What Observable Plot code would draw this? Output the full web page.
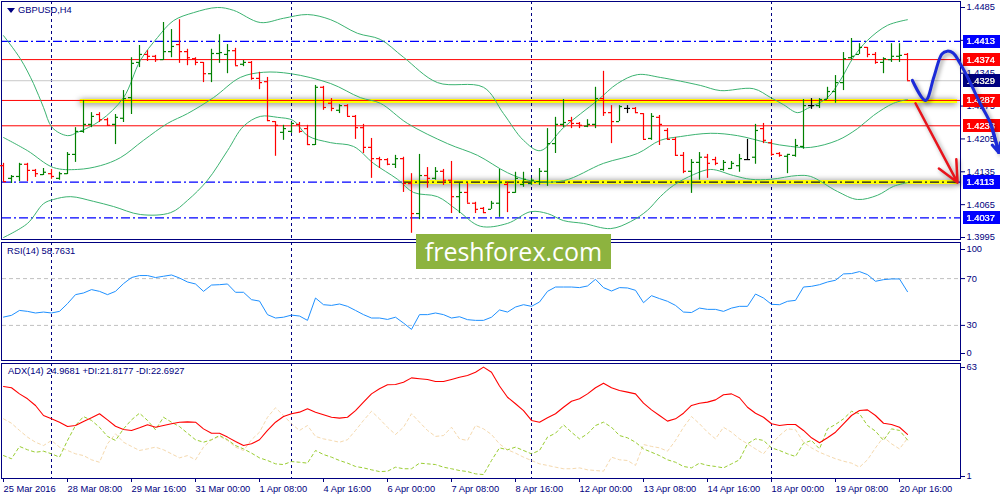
<!DOCTYPE html>
<html>
<head>
<meta charset="utf-8">
<script src="https://cdn.jsdelivr.net/npm/d3@7"></script>
<script src="https://cdn.jsdelivr.net/npm/@observablehq/plot@0.6"></script>
<style>
  body { margin: 0; background: #fff; font-family: "Liberation Sans", Arial, sans-serif; }
  #wrap { position: relative; width: 1000px; height: 500px; overflow: hidden; }
  #wrap > svg { position: absolute; left: 0; }
  .panel { position: absolute; box-sizing: border-box; border: 1px solid #000080; }
  .lbl { position: absolute; font-size: 9.3px; color: #000080; white-space: nowrap; line-height: 12px; }
  .tri { position: absolute; left: 7px; top: 8px; width: 0; height: 0;
         border-left: 4px solid transparent; border-right: 4px solid transparent; border-top: 5px solid #000080; }
  #wm { position: absolute; left: 416px; top: 234px; width: 195px; height: 35px; background: #8db33f;
        color: #fff; font-family: "Open Sans", sans-serif; font-size: 25px; line-height: 35px; text-align: center; }
  .glow { filter: drop-shadow(0 1px 3px rgba(0,0,0,.6)); }
  .shadow { filter: drop-shadow(2px 2px 2px rgba(0,0,0,.4)); }
  .tag-red text { filter: url(#tagRed); }
  .tag-blue text { filter: url(#tagBlue); }
  .tag-navy text { filter: url(#tagNavy); }
</style>
</head>
<body>
<svg width="0" height="0" style="position:absolute">
  <filter id="tagRed" x="-0.1" y="-0.12" width="1.6" height="1.24"><feFlood flood-color="#ff0000"/><feComposite in="SourceGraphic"/></filter>
  <filter id="tagBlue" x="-0.1" y="-0.12" width="1.6" height="1.24"><feFlood flood-color="#0000ff"/><feComposite in="SourceGraphic"/></filter>
  <filter id="tagNavy" x="-0.1" y="-0.12" width="1.6" height="1.24"><feFlood flood-color="#000080"/><feComposite in="SourceGraphic"/></filter>
</svg>
<div id="wrap">
  <div class="panel" style="left:1px;top:1px;width:960px;height:239px"></div>
  <div class="panel" style="left:1px;top:242px;width:960px;height:119px"></div>
  <div class="panel" style="left:1px;top:363px;width:960px;height:116px"></div>
</div>
<script>
const NAVY = "#000080";
const UP = "#008000";
const DOWN = "#ff0000";
const BB = "#3cb371";
const FONT = '"Liberation Sans", Arial, sans-serif';
const X_DOMAIN = [-0.125, 119.625];

// GBPUSD H4 bars, 25 Mar 2016 00:00 .. 20 Apr 2016 20:00
const open = [1.4148,1.4121,1.4125,1.4151,1.4138,1.4129,1.4131,1.4121,1.4131,1.4172,1.4221,1.4236,1.4257,1.4246,1.4236,1.4249,1.4293,1.4368,1.4385,1.4381,
  1.4374,1.4391,1.4406,1.4391,1.4376,1.4368,1.4344,1.4387,1.4385,1.4393,1.4364,1.4368,1.4334,1.4327,1.4242,1.4219,1.4221,1.4236,1.4227,1.4193,
  1.4315,1.4281,1.4266,1.4276,1.4253,1.4229,1.4187,1.4163,1.4161,1.4151,1.4163,1.4110,1.4046,1.4127,1.4121,1.4136,1.4117,1.4082,1.4091,1.4068,
  1.4057,1.4055,1.4068,1.4108,1.4091,1.4108,1.4110,1.4114,1.4136,1.4195,1.4236,1.4244,1.4238,1.4232,1.4236,1.4291,1.4261,1.4242,1.4270,1.4270,
  1.4259,1.4206,1.4251,1.4223,1.4204,1.4170,1.4136,1.4155,1.4166,1.4161,1.4140,1.4142,1.4148,1.4161,1.4166,1.4227,1.4197,1.4174,1.4168,1.4170,
  1.4189,1.4276,1.4276,1.4289,1.4306,1.4325,1.4378,1.4385,1.4400,1.4385,1.4368,1.4374,1.4381,1.4385];
const high = [1.4153,1.4127,1.4153,1.4153,1.4140,1.4142,1.4140,1.4134,1.4176,1.4229,1.4287,1.4261,1.4261,1.4249,1.4257,1.4308,1.4378,1.4404,1.4393,1.4383,
  1.4453,1.4438,1.4459,1.4396,1.4378,1.4368,1.4396,1.4427,1.4406,1.4398,1.4372,1.4370,1.4347,1.4336,1.4242,1.4234,1.4240,1.4240,1.4234,1.4319,
  1.4317,1.4291,1.4278,1.4278,1.4255,1.4236,1.4206,1.4166,1.4163,1.4170,1.4166,1.4131,1.4172,1.4144,1.4144,1.4140,1.4157,1.4110,1.4110,1.4070,
  1.4059,1.4072,1.4140,1.4112,1.4134,1.4134,1.4121,1.4142,1.4227,1.4251,1.4289,1.4251,1.4240,1.4246,1.4315,1.4349,1.4276,1.4276,1.4276,1.4272,
  1.4259,1.4259,1.4255,1.4227,1.4208,1.4176,1.4161,1.4176,1.4172,1.4166,1.4159,1.4157,1.4172,1.4204,1.4236,1.4238,1.4202,1.4176,1.4172,1.4204,
  1.4289,1.4291,1.4291,1.4315,1.4340,1.4389,1.4419,1.4408,1.4400,1.4389,1.4378,1.4408,1.4408,1.4387];
const low = [1.4112,1.4110,1.4114,1.4114,1.4123,1.4127,1.4119,1.4117,1.4129,1.4155,1.4217,1.4229,1.4240,1.4232,1.4193,1.4240,1.4257,1.4357,1.4370,1.4368,
  1.4372,1.4378,1.4366,1.4361,1.4361,1.4325,1.4325,1.4366,1.4344,1.4361,1.4359,1.4330,1.4310,1.4242,1.4168,1.4202,1.4217,1.4217,1.4191,1.4191,
  1.4266,1.4263,1.4259,1.4253,1.4204,1.4174,1.4121,1.4142,1.4148,1.4142,1.4091,1.4004,1.4033,1.4100,1.4117,1.4106,1.4046,1.4046,1.4068,1.4046,
  1.4046,1.4055,1.4038,1.4048,1.4089,1.4102,1.4106,1.4106,1.4104,1.4174,1.4229,1.4227,1.4227,1.4229,1.4227,1.4253,1.4195,1.4242,1.4259,1.4259,
  1.4204,1.4202,1.4191,1.4202,1.4168,1.4131,1.4089,1.4117,1.4121,1.4148,1.4136,1.4140,1.4134,1.4161,1.4151,1.4195,1.4168,1.4166,1.4131,1.4166,
  1.4183,1.4268,1.4270,1.4289,1.4281,1.4308,1.4374,1.4385,1.4378,1.4364,1.4344,1.4368,1.4368,1.4329];
const close = [1.4114,1.4125,1.4151,1.4138,1.4131,1.4134,1.4125,1.4131,1.4172,1.4221,1.4236,1.4253,1.4246,1.4234,1.4251,1.4291,1.4366,1.4385,1.4381,1.4374,
  1.4391,1.4402,1.4391,1.4378,1.4368,1.4344,1.4387,1.4389,1.4393,1.4361,1.4368,1.4334,1.4325,1.4244,1.4234,1.4227,1.4238,1.4221,1.4193,1.4315,
  1.4272,1.4270,1.4276,1.4253,1.4229,1.4187,1.4163,1.4161,1.4151,1.4163,1.4110,1.4046,1.4127,1.4121,1.4136,1.4117,1.4082,1.4091,1.4068,1.4055,
  1.4048,1.4068,1.4112,1.4091,1.4121,1.4119,1.4117,1.4136,1.4195,1.4236,1.4240,1.4238,1.4234,1.4236,1.4291,1.4261,1.4242,1.4274,1.4270,1.4261,
  1.4204,1.4253,1.4236,1.4204,1.4170,1.4136,1.4155,1.4166,1.4153,1.4153,1.4155,1.4153,1.4163,1.4161,1.4223,1.4202,1.4172,1.4170,1.4172,1.4191,
  1.4276,1.4276,1.4289,1.4306,1.4325,1.4376,1.4381,1.4400,1.4385,1.4368,1.4376,1.4381,1.4383,1.4329];

// Bollinger bands, read at [bar, price]
const bbUpper = [[0,1.4425],[2.1,1.4376],[3.75,1.4323],[5,1.4272],[6.1,1.4229],[8,1.4212],[9.25,1.4219],[12.1,1.4244],[15,1.4293],[17.1,1.4372],
  [19.25,1.4421],[21.25,1.4457],[23.75,1.4474],[26.75,1.4485],[28.75,1.4479],[32.1,1.4453],[35,1.4462],[38,1.4470],[40.9,1.4459],[44.25,1.4430],
  [47.1,1.4417],[50,1.4379],[54.25,1.4325],[60,1.4315],[62.5,1.4259],[65,1.4202],[67.1,1.4180],[70,1.4229],[74.25,1.4287],[76.75,1.4323],
  [79.25,1.4342],[82.1,1.4336],[87.1,1.4319],[89.6,1.4308],[93.75,1.4312],[95.9,1.4293],[97.5,1.4278],[99.25,1.4261],[100.5,1.4270],[103,1.4293],
  [104.6,1.4330],[106.25,1.4379],[108,1.4415],[110.5,1.4447],[113,1.4459]];
const bbMiddle = [[0,1.4208],[3,1.4180],[6.25,1.4144],[9.25,1.4140],[12.1,1.4148],[14.6,1.4165],[17.5,1.4202],[20.5,1.4238],[23,1.4259],[26.25,1.4293],
  [29.6,1.4336],[32.5,1.4347],[35.9,1.4344],[40.9,1.4323],[44.6,1.4293],[47.1,1.4281],[50.5,1.4238],[55.5,1.4195],[59.25,1.4170],[63,1.4133],
  [65.9,1.4116],[70,1.4116],[75,1.4153],[79.25,1.4174],[82.1,1.4202],[84.6,1.4210],[88.4,1.4217],[91.75,1.4212],[95.5,1.4197],[98.4,1.4189],
  [100.9,1.4187],[104.25,1.4202],[106.75,1.4227],[108.75,1.4255],[111.25,1.4281],[113,1.4289]];
const bbLower = [[0,1.3995],[3,1.4025],[5,1.4067],[6.25,1.4076],[8.4,1.4082],[11.25,1.4072],[13.75,1.4061],[17.1,1.4044],[20.9,1.4048],[23,1.4074],
  [25.5,1.4117],[28,1.4180],[30,1.4232],[32.1,1.4253],[34.25,1.4251],[36.25,1.4244],[38,1.4212],[40.9,1.4197],[43.75,1.4189],[46.25,1.4153],
  [49.25,1.4119],[51.25,1.4091],[54.25,1.4082],[56.75,1.4053],[59.6,1.4019],[63,1.4025],[65.9,1.4050],[68,1.4046],[70,1.4031],[72.5,1.4025],
  [75.9,1.4014],[78.4,1.4029],[80.5,1.4053],[82.1,1.4082],[83.75,1.4106],[86.25,1.4129],[88.4,1.4140],[91.25,1.4127],[93.4,1.4119],[95.9,1.4119],
  [99.25,1.4127],[100.9,1.4125],[104.25,1.4093],[106.75,1.4076],[109.25,1.4085],[111.25,1.4104],[113,1.4112]];

const rsi = [37.1,38.6,42.8,42.0,40.6,41.4,40.6,42.0,48.6,56.3,57.7,60.6,59.1,56.3,59.1,65.7,70.9,72.6,72.6,70.9,
  72.0,73.1,70.5,67.1,65.4,59.1,64.5,64.8,65.4,58.3,58.3,52.0,50.8,39.2,36.3,37.0,38.8,38.0,34.3,53.4,
  47.7,47.1,48.3,46.3,42.8,39.2,36.3,36.3,35.1,37.0,32.0,26.6,39.2,39.2,40.6,39.2,36.3,37.4,34.9,34.3,
  34.3,37.0,43.2,41.4,45.7,47.7,46.3,50.0,59.1,62.8,62.8,62.8,62.3,63.7,69.4,62.3,59.4,62.3,62.0,60.0,
  49.4,55.4,52.9,50.6,47.1,41.4,41.0,44.8,43.7,43.7,42.0,44.8,46.3,46.3,56.8,53.4,48.0,47.7,50.6,51.4,
  62.8,63.4,64.8,67.1,68.6,74.0,74.3,76.0,73.4,67.7,69.1,69.7,69.7,58.8];
const adx = [52.2,51.5,48.0,45.2,41.4,35.7,33.8,31.9,29.4,30.0,32.3,34.4,36.7,33.2,29.6,27.7,27.2,28.7,30.4,29.0,
  30.0,31.0,31.9,32.1,31.9,28.1,25.6,25.6,23.4,20.9,18.6,19.6,21.9,27.2,31.9,35.1,36.7,37.6,39.5,37.6,
  36.1,34.7,34.2,34.7,38.5,43.3,48.0,50.9,53.2,53.3,54.6,57.1,56.6,56.2,55.0,55.0,56.2,57.5,58.5,60.3,
  63.2,60.3,52.5,46.1,42.4,38.5,32.9,31.9,34.4,36.7,40.4,43.8,45.2,48.0,51.5,54.1,51.5,49.9,49.0,48.0,
  42.7,38.9,35.7,32.5,33.8,37.0,41.4,42.7,43.3,44.6,47.5,48.0,45.8,40.4,37.0,34.7,31.0,30.0,30.6,30.6,
  27.2,23.0,20.2,23.0,26.2,31.0,35.7,38.5,38.9,35.7,31.3,30.6,29.0,25.0];
const plusDI = [12.9,11.1,18.1,16.2,14.8,15.4,13.9,12.0,21.5,30.0,35.1,32.9,29.0,23.8,21.5,28.1,33.2,37.0,32.9,27.6,
  34.7,31.9,29.4,25.6,21.9,20.5,21.9,24.3,21.9,18.6,16.7,14.3,11.6,10.1,8.2,7.8,9.5,9.1,8.6,15.8,
  13.5,12.0,10.1,8.6,6.7,5.9,4.8,3.8,4.0,6.3,5.4,5.4,8.6,8.2,7.8,6.3,5.4,4.4,3.8,2.5,
  2.1,10.1,17.3,16.2,17.7,15.8,13.9,15.8,23.4,25.6,30.4,26.2,22.4,25.3,30.0,31.9,29.0,24.3,23.0,20.5,
  16.7,14.8,12.9,10.5,9.1,6.7,5.9,8.6,7.3,6.7,5.9,8.2,10.5,19.6,22.4,21.5,17.3,15.8,13.9,12.4,
  19.9,21.5,16.7,28.1,30.6,33.8,38.1,36.7,30.0,26.8,21.5,28.1,27.2,21.8];
const minusDI = [33.8,31.3,27.2,23.4,20.5,18.6,21.5,17.7,15.8,13.9,12.9,10.5,9.1,19.6,25.3,20.5,18.1,15.8,16.7,17.7,
  16.2,13.9,11.6,12.9,10.5,17.7,21.9,23.8,21.5,17.7,15.8,21.9,26.2,34.7,40.1,35.7,31.0,27.2,30.0,23.8,
  22.4,21.5,20.5,21.9,27.2,32.9,38.1,33.8,29.0,24.9,29.0,36.7,31.9,27.2,23.8,24.3,29.0,22.4,21.5,30.0,
  28.1,24.9,19.5,16.2,14.3,12.0,10.1,8.2,7.3,6.3,5.4,5.4,5.9,4.8,4.4,4.0,12.0,10.5,10.1,7.3,
  19.2,18.1,17.3,15.4,21.5,29.0,35.1,31.0,26.2,22.4,29.0,26.2,22.4,19.6,16.7,13.9,19.6,24.3,28.1,27.6,
  20.5,17.3,14.8,12.9,11.1,9.7,8.6,6.3,10.5,17.3,23.4,19.6,16.7,22.7];

const weekStarts = [6, 36, 66, 96];
const dateTickBars = [0, 8, 16, 24, 32, 40, 48, 56, 64, 72, 80, 88, 96, 104, 112];
const dateTickLabels = ["25 Mar 2016", "28 Mar 08:00", "29 Mar 16:00", "31 Mar 00:00", "1 Apr 08:00", "4 Apr 16:00",
  "6 Apr 00:00", "7 Apr 08:00", "8 Apr 16:00", "12 Apr 00:00", "13 Apr 08:00", "14 Apr 16:00", "18 Apr 00:00",
  "19 Apr 08:00", "20 Apr 16:00"];
const priceTicks = [1.3995, 1.4065, 1.4135, 1.4205, 1.4275, 1.4345, 1.4415, 1.4485];

const redLevels = [1.4374, 1.4287, 1.4233];
const blueLevels = [1.4413, 1.4113, 1.4037];
const bidLevel = [1.4329];
const zones = [{price: 1.4286, from: 9.6, to: 119.25}, {price: 1.4113, from: 50, to: 119.25}];
const bluePath = [[113.6,1.4330],[115.25,1.4287],[116.3,1.4337],[117.3,1.4386],[117.96,1.4392],[118.7,1.4388],
  [119.6,1.4365],[120.7,1.4330],[122.1,1.4280],[123.4,1.4237],[124.4,1.4176]];
const redArrow = [{x1: 114, y1: 1.4281, x2: 119.25, y2: 1.4112}];

const bars = open.map((o, i) => ({i, o, h: high[i], l: low[i], c: close[i]}));
const barColor = d => d.c > d.o ? UP : d.c < d.o ? DOWN : "#000000";
const tickLabel = new Map(dateTickBars.map((b, k) => [b, dateTickLabels[k]]));
const [tailFrom, tailTo] = bluePath.slice(-2);
const blueHead = [{x1: tailFrom[0], y1: tailFrom[1], x2: tailTo[0], y2: tailTo[1]}];
const baseStyle = {background: "transparent", fontFamily: FONT, fontSize: "9.3px", color: NAVY, overflow: "visible"};
const sep = extra => Plot.ruleX(weekStarts, {stroke: NAVY, strokeDasharray: "3,3", ...extra});
const tag = (levels, cls) =>
  Plot.text(levels, {y: d => d, text: d => d.toFixed(4), frameAnchor: "right", dx: 6, textAnchor: "start", fill: "white", className: cls});

const mainPlot = Plot.plot({
  width: 1000, height: 240, marginLeft: 2, marginRight: 40, marginTop: 7, marginBottom: 3,
  x: {domain: X_DOMAIN, axis: null},
  y: {domain: [1.3995, 1.4485]},
  color: {type: "identity"},
  style: baseStyle,
  marks: [
    sep({insetTop: -6, insetBottom: -2}),
    Plot.ruleY(bidLevel, {stroke: "#c8c8c8"}),
    Plot.ruleY(blueLevels, {stroke: "#0000ff", strokeWidth: 1.3, strokeDasharray: "9,3,2,3"}),
    Plot.ruleY(redLevels.filter(p => p !== 1.4287), {stroke: "#ff0000"}),
    Plot.ruleY(zones, {y: "price", x1: "from", x2: "to", stroke: "#ffff00", strokeWidth: 4, className: "glow"}),
    Plot.ruleY([1.4287], {stroke: "#ff0000"}),
    Plot.ruleY(zones.slice(1), {y: "price", x1: "from", x2: "to", stroke: "#101020", strokeWidth: 1.3, strokeDasharray: "9,3,2,3"}),
    Plot.line(bbUpper, {x: d => d[0], y: d => d[1], stroke: BB, strokeWidth: 1, curve: "catmull-rom"}),
    Plot.line(bbMiddle, {x: d => d[0], y: d => d[1], stroke: BB, strokeWidth: 1, curve: "catmull-rom"}),
    Plot.line(bbLower, {x: d => d[0], y: d => d[1], stroke: BB, strokeWidth: 1, curve: "catmull-rom"}),
    Plot.ruleX(bars, {x: "i", y1: "l", y2: "h", stroke: barColor, strokeWidth: 1.2}),
    Plot.ruleY(bars, {y: "o", x1: d => d.i - 0.375, x2: "i", stroke: barColor, strokeWidth: 1.2}),
    Plot.ruleY(bars, {y: "c", x1: "i", x2: d => d.i + 0.375, stroke: barColor, strokeWidth: 1.2}),
    Plot.axisY({anchor: "right", ticks: priceTicks, tickFormat: d => d.toFixed(4), tickSize: 4, tickPadding: 2}),
    tag(redLevels, "tag-red"),
    tag(blueLevels, "tag-blue"),
    tag(bidLevel, "tag-navy"),
    Plot.arrow(redArrow, {x1: "x1", y1: "y1", x2: "x2", y2: "y2", stroke: "#e8141c", strokeWidth: 2.5, headLength: 14, headAngle: 50, className: "shadow"}),
    Plot.line(bluePath, {x: d => d[0], y: d => d[1], stroke: "#1c2bd8", strokeWidth: 3, curve: "catmull-rom", className: "shadow"}),
    Plot.arrow(blueHead, {x1: "x1", y1: "y1", x2: "x2", y2: "y2", stroke: "#1c2bd8", strokeWidth: 3, headLength: 12, headAngle: 50})
  ]
});

const rsiPlot = Plot.plot({
  width: 1000, height: 122, marginLeft: 2, marginRight: 40, marginTop: 3, marginBottom: 2,
  x: {domain: X_DOMAIN, axis: null},
  y: {domain: [0, 100]},
  style: baseStyle,
  marks: [
    sep({insetTop: -1}),
    Plot.ruleY([30, 70], {stroke: "#c0c0c0", strokeDasharray: "4,3"}),
    Plot.line(rsi, {x: (d, i) => i, y: d => d, stroke: "#1e90ff", strokeWidth: 1}),
    Plot.axisY({anchor: "right", ticks: [100], tickSize: 4, tickPadding: 2, dy: 6}),
    Plot.axisY({anchor: "right", ticks: [30, 70], tickSize: 4, tickPadding: 2}),
    Plot.axisY({anchor: "right", ticks: [0], tickSize: 4, tickPadding: 2, dy: -7})
  ]
});

const adxPlot = Plot.plot({
  width: 1000, height: 138, marginLeft: 2, marginRight: 40, marginTop: 1, marginBottom: 22,
  x: {domain: X_DOMAIN},
  y: {domain: [-0.14, 65.28]},
  style: baseStyle,
  marks: [
    sep({}),
    Plot.line(minusDI, {x: (d, i) => i, y: d => d, stroke: "#f5d9ae", strokeWidth: 1, strokeDasharray: "3,3"}),
    Plot.line(plusDI, {x: (d, i) => i, y: d => d, stroke: "#9acd32", strokeWidth: 1, strokeDasharray: "3,3"}),
    Plot.line(adx, {x: (d, i) => i, y: d => d, stroke: "#ff0000", strokeWidth: 1.1}),
    Plot.axisY({anchor: "right", ticks: [1, 63], tickFormat: d => String(d), tickSize: 4, tickPadding: 2}),
    Plot.axisX({ticks: dateTickBars, tickFormat: d => tickLabel.get(d), textAnchor: "start", tickSize: 4, tickPadding: 3})
  ]
});

const wrap = document.getElementById("wrap");
[[mainPlot, 0], [rsiPlot, 240], [adxPlot, 362]].forEach(([svg, top]) => {
  svg.style.top = top + "px";
  wrap.append(svg);
});

const addLabel = (text, left, top) => {
  const el = document.createElement("div");
  el.className = "lbl";
  el.style.left = left + "px";
  el.style.top = top + "px";
  el.textContent = text;
  wrap.append(el);
};
const tri = document.createElement("div");
tri.className = "tri";
wrap.append(tri);
addLabel("GBPUSD,H4", 18, 4);
addLabel("RSI(14) 58.7631", 7, 245);
addLabel("ADX(14) 24.9681 +DI:21.8177 -DI:22.6927", 8, 365);
const wm = document.createElement("div");
wm.id = "wm";
wm.textContent = "freshforex.com";
wrap.append(wm);
</script>
</body>
</html>
